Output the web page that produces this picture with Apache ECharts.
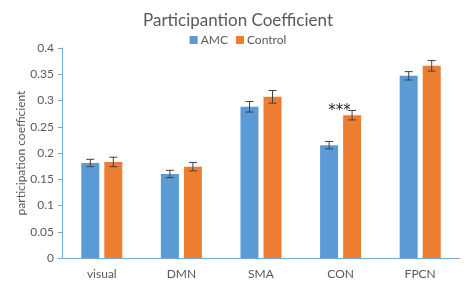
<!DOCTYPE html>
<html>
<head>
<meta charset="utf-8">
<script src="https://cdn.jsdelivr.net/npm/echarts@6/dist/echarts.min.js"></script>
<style>
  html, body { margin: 0; padding: 0; background: #fff; }
  #chart { width: 476px; height: 301px; }
</style>
</head>
<body>
<div id="chart"></div>
<script>
// 网络分区
var categories = ['visual', 'DMN', 'SMA', 'CON', 'FPCN']
// 两组均值
var amcValues = [0.181, 0.160, 0.288, 0.215, 0.347]
var controlValues = [0.183, 0.174, 0.307, 0.272, 0.366]
// 标准误
var amcErrors = [0.007, 0.007, 0.010, 0.007, 0.008]
var controlErrors = [0.009, 0.008, 0.012, 0.009, 0.010]
// 显著性标记
var sigMarks = ['', '', '', '***', '']
var yTicks = [0, 0.05, 0.1, 0.15, 0.2, 0.25, 0.3, 0.35, 0.4]

var textColor = '#595959'
var fontFamily = 'Lato, "Open Sans", sans-serif'
var barW = 18
var barOffset = 11.5

function errorSeries(values, errors, offset) {
  return {
    type: 'custom',
    silent: true,
    z: 5,
    data: values.map(function (v, i) { return [i, v, errors[i]] }),
    renderItem: function (params, api) {
      var idx = api.value(0)
      var top = api.coord([idx, api.value(1) + api.value(2)])
      var bot = api.coord([idx, api.value(1) - api.value(2)])
      var x = top[0] + offset
      var style = { stroke: '#404040', lineWidth: 1 }
      return {
        type: 'group',
        children: [
          { type: 'line', shape: { x1: x, y1: top[1], x2: x, y2: bot[1] }, style: style },
          { type: 'line', shape: { x1: x - 4, y1: top[1], x2: x + 4, y2: top[1] }, style: style },
          { type: 'line', shape: { x1: x - 4, y1: bot[1], x2: x + 4, y2: bot[1] }, style: style }
        ]
      }
    }
  }
}

var myChart = echarts.init(document.getElementById('chart'))
var option = {
  animation: false,
  textStyle: { fontFamily: fontFamily },
  title: {
    text: 'Participantion Coefficient',
    left: 'center',
    top: 7,
    textStyle: { fontSize: 17, fontWeight: 'normal', color: textColor, fontFamily: fontFamily }
  },
  legend: {
    top: 29,
    left: 'center',
    itemWidth: 8,
    itemHeight: 8,
    itemGap: 8,
    icon: 'rect',
    textStyle: { fontSize: 12, color: textColor, fontFamily: fontFamily, padding: [0, 0, 0, -2] },
    data: ['AMC', 'Control']
  },
  grid: { left: 62, right: 16, top: 48, bottom: 43 },
  xAxis: {
    type: 'category',
    data: categories,
    axisLine: { lineStyle: { color: '#7AA6D6' } },
    axisTick: { show: false },
    axisLabel: { color: textColor, fontSize: 12, margin: 10 }
  },
  yAxis: {
    type: 'value',
    min: yTicks[0],
    max: yTicks[yTicks.length - 1],
    interval: 0.05,
    name: 'participation coefficient',
    nameLocation: 'middle',
    nameGap: 41,
    nameMoveOverlap: false,
    nameTextStyle: { color: textColor, fontSize: 12, verticalAlign: 'middle' },
    axisLine: { show: true, lineStyle: { color: '#7AA6D6' } },
    axisTick: { show: true, length: 4, lineStyle: { color: '#7AA6D6' } },
    axisLabel: { color: textColor, fontSize: 12, margin: 8 },
    splitLine: { show: false }
  },
  series: [
    {
      name: 'AMC',
      type: 'bar',
      data: amcValues,
      barWidth: barW,
      barGap: '28%',
      itemStyle: { color: '#5B9BD5' }
    },
    {
      name: 'Control',
      type: 'bar',
      data: controlValues,
      barWidth: barW,
      barGap: '28%',
      itemStyle: { color: '#ED7D31' }
    },
    errorSeries(amcValues, amcErrors, -barOffset),
    errorSeries(controlValues, controlErrors, barOffset),
    {
      type: 'custom',
      silent: true,
      z: 6,
      data: sigMarks.map(function (s, i) {
        return [i, Math.max(amcValues[i] + amcErrors[i], controlValues[i] + controlErrors[i]), s]
      }),
      renderItem: function (params, api) {
        var p = api.coord([api.value(0), api.value(1)])
        return {
          type: 'text',
          style: {
            text: sigMarks[params.dataIndex],
            x: p[0] - 1,
            y: p[1] + 1,
            textAlign: 'center',
            textVerticalAlign: 'middle',
            fill: '#262626',
            font: '15px "DejaVu Sans", sans-serif'
          }
        }
      }
    }
  ]
}
myChart.setOption(option)
window.addEventListener('resize', () => {
  myChart.resize()
})
</script>
</body>
</html>
